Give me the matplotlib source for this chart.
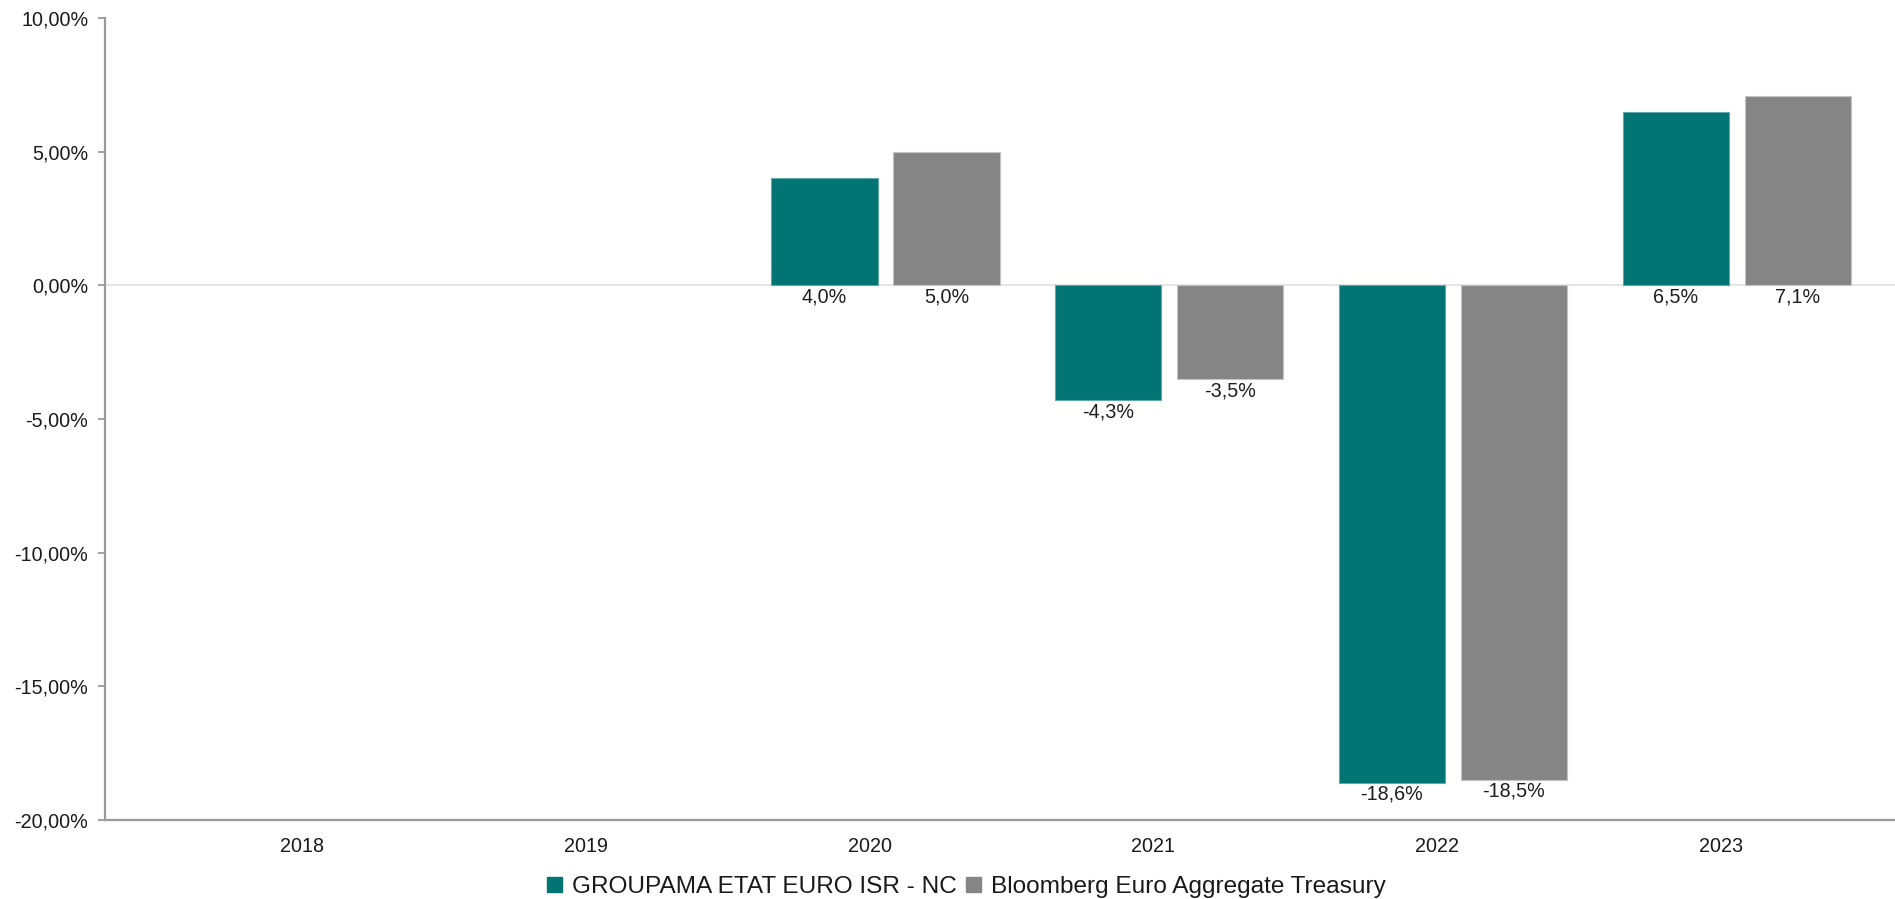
import numpy as np
import matplotlib
matplotlib.use("Agg")
from matplotlib import pyplot as plt
from matplotlib.patches import Patch
from matplotlib.ticker import FuncFormatter

plt.rcParams["font.family"] = ["Liberation Sans", "DejaVu Sans"]

years = ["2018", "2019", "2020", "2021", "2022", "2023"]
fund = [np.nan, np.nan, 4.0, -4.3, -18.6, 6.5]
bench = [np.nan, np.nan, 5.0, -3.5, -18.5, 7.1]
fund_name = "GROUPAMA ETAT EURO ISR - NC"
bench_name = "Bloomberg Euro Aggregate Treasury"

teal = "#017473"
grey = "#858585"

fig = plt.figure(figsize=(18.95, 8.99), dpi=100)
ax = fig.add_axes([0.0554, 0.0879, 0.9446, 0.892])

x = np.arange(len(years))
w = 0.374
shift = 0.056
b1 = ax.bar(x + shift - 0.215, fund, w, color=teal, edgecolor="#5fa9a8", lw=0.8, zorder=3)
b2 = ax.bar(x + shift + 0.215, bench, w, color=grey, edgecolor="#c4c4c4", lw=0.8, zorder=3)

# value labels: below zero line for gains, below bar end for losses
for bars, vals in [(b1, fund), (b2, bench)]:
    for rect, v in zip(bars, vals):
        if np.isnan(v):
            continue
        ax.annotate(f"{v:.1f}%".replace(".", ","),
                    (rect.get_x() + rect.get_width() / 2, min(v, 0)),
                    xytext=(0, -1.5), textcoords="offset points",
                    ha="center", va="top", fontsize=14.2, color="#1e1e1e")

ax.axhline(0, color="#e6e6e6", lw=1.5, zorder=1)

ax.set_ylim(-20, 10)
ax.set_yticks(np.arange(-20, 10.1, 5))
ax.yaxis.set_major_formatter(FuncFormatter(lambda v, p: f"{v:.2f}%".replace(".", ",")))
ax.set_xlim(-0.695, 5.614)
ax.set_xticks(x)
ax.set_xticklabels(years)

for s in ["top", "right"]:
    ax.spines[s].set_visible(False)
for s in ["left", "bottom"]:
    ax.spines[s].set_color("#9a9a9a")
    ax.spines[s].set_linewidth(1.6)
ax.tick_params(axis="y", length=5, width=1.3, color="#9a9a9a", labelsize=14.2, labelcolor="#1a1a1a", pad=7)
ax.tick_params(axis="x", length=0, labelsize=14.2, labelcolor="#1a1a1a", pad=12)

handles = [Patch(color=teal), Patch(color=grey)]
fig.legend(handles, [fund_name, bench_name], loc="center", bbox_to_anchor=(0.51, 0.0134),
           ncol=2, frameon=False, fontsize=17.6, handlelength=0.6, handleheight=0.6,
           handletextpad=0.4, columnspacing=0.4, borderaxespad=0, borderpad=0,
           labelcolor="#1a1a1a")

fig.savefig("out.png", dpi=100)
